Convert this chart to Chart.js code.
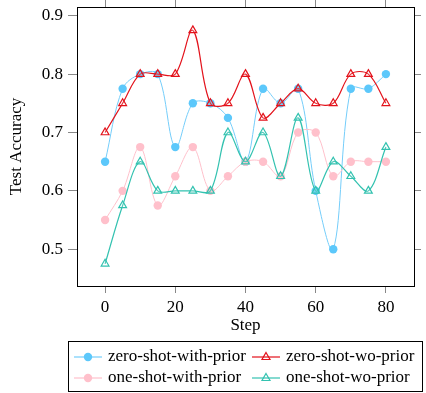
<!DOCTYPE html>
<html>
<head>
<meta charset="utf-8">
<script src="https://cdn.jsdelivr.net/npm/chart.js@4"></script>
<style>
  html, body { margin: 0; padding: 0; background: #fff; }
  #wrap { position: relative; width: 426px; height: 393px; }
  #legend {
    position: absolute; left: 68px; top: 341px; width: 355px; height: 51px;
    border: 1px solid #000; box-sizing: border-box;
    font-family: "Liberation Serif", "Times New Roman", serif; font-size: 17px;
  }
  .item { position: absolute; height: 20px; line-height: 20px; white-space: nowrap; }
  .item svg { position: absolute; left: 0; top: 2px; }
  .item span { position: absolute; left: 34px; top: -1px; }
</style>
</head>
<body>
<div id="wrap">
  <canvas id="chart" width="426" height="393"></canvas>
  <div id="legend"></div>
</div>
<script>
let steps = [0, 5, 10, 15, 20, 25, 30, 35, 40, 45, 50, 55, 60, 65, 70, 75, 80];
let zeroWithPrior = [0.65, 0.775, 0.8, 0.8, 0.675, 0.75, 0.75, 0.725, 0.65, 0.775, 0.75, 0.775, 0.6, 0.5, 0.775, 0.775, 0.8];
let zeroWoPrior = [0.7, 0.75, 0.8, 0.8, 0.8, 0.875, 0.75, 0.75, 0.8, 0.725, 0.75, 0.775, 0.75, 0.75, 0.8, 0.8, 0.75];
let oneWithPrior = [0.55, 0.6, 0.675, 0.575, 0.625, 0.675, 0.6, 0.625, 0.65, 0.65, 0.625, 0.7, 0.7, 0.625, 0.65, 0.65, 0.65];
let oneWoPrior = [0.475, 0.575, 0.65, 0.6, 0.6, 0.6, 0.6, 0.7, 0.65, 0.7, 0.625, 0.725, 0.6, 0.65, 0.625, 0.6, 0.675];
let xTicks = [0, 20, 40, 60, 80];
let yTicks = [0.5, 0.6, 0.7, 0.8, 0.9];

const font = "'Liberation Serif', 'Times New Roman', serif";

function pts(values) {
    return steps.map((s, i) => ({ x: s, y: values[i] }));
}

const series = [
    { label: "zero-shot-with-prior", data: zeroWithPrior, color: "#5cc8fb", line: "#74cdfa", shape: "circle", order: 3, width: 1 },
    { label: "zero-shot-wo-prior", data: zeroWoPrior, color: "#e3121b", line: "#e3121b", shape: "triangle", order: 2, width: 1.2 },
    { label: "one-shot-with-prior", data: oneWithPrior, color: "#ffc0cb", line: "#ffc0cb", shape: "circle", order: 1, width: 1 },
    { label: "one-shot-wo-prior", data: oneWoPrior, color: "#33c2b0", line: "#33c2b0", shape: "triangle", order: 0, width: 1.2 }
];

const datasets = series.map(s => ({
    label: s.label,
    data: pts(s.data),
    borderColor: s.line,
    borderWidth: s.width,
    tension: 0.35,
    order: s.order,
    pointStyle: s.shape,
    pointRadius: s.shape === "circle" ? 4.2 : 4.5,
    pointBorderWidth: s.shape === "circle" ? 0 : 1.2,
    pointBackgroundColor: s.shape === "circle" ? s.color : "rgba(255,255,255,0.15)",
    pointBorderColor: s.color
}));

function fixedTicks(list) {
    return scale => { scale.ticks = list.map(v => ({ value: v })); };
}

function size(prop, v) {
    return scale => {
        scale[prop] = v;
        scale.paddingTop = 0; scale.paddingBottom = 0;
        scale.paddingLeft = 0; scale.paddingRight = 0;
    };
}

new Chart(document.getElementById("chart"), {
    type: "line",
    data: { datasets: datasets },
    options: {
        responsive: false,
        animation: false,
        layout: { padding: 0 },
        plugins: { legend: { display: false }, tooltip: { enabled: false } },
        scales: {
            x: {
                type: "linear", position: "bottom", min: -8, max: 88,
                afterBuildTicks: fixedTicks(xTicks),
                afterFit: size("height", 107),
                grid: { drawOnChartArea: false, tickLength: 7, color: "#888" },
                border: { color: "#000", width: 1 },
                ticks: { color: "#000", padding: 4, maxRotation: 0, font: { family: font, size: 17 } },
                title: { display: true, text: "Step", color: "#000", font: { family: font, size: 17 }, padding: { top: 0, bottom: 57 } }
            },
            x2: {
                type: "linear", position: "top", min: -8, max: 88,
                afterBuildTicks: fixedTicks(xTicks),
                afterFit: size("height", 7),
                grid: { drawOnChartArea: false, tickLength: 7, color: "#888" },
                border: { color: "#000", width: 1 },
                ticks: { display: false }
            },
            y: {
                type: "linear", position: "left", min: 0.437, max: 0.915,
                afterBuildTicks: fixedTicks(yTicks),
                afterFit: size("width", 77),
                grid: { drawOnChartArea: false, tickLength: 9, color: "#888" },
                border: { color: "#000", width: 1 },
                ticks: { color: "#000", padding: 5, font: { family: font, size: 17 } },
                title: { display: true, text: "Test Accuracy", color: "#000", font: { family: font, size: 17 }, padding: { top: 6, bottom: 0 } }
            },
            y2: {
                type: "linear", position: "right", min: 0.437, max: 0.915,
                afterBuildTicks: fixedTicks(yTicks),
                afterFit: size("width", 12),
                grid: { drawOnChartArea: false, tickLength: 7, color: "#888" },
                border: { color: "#000", width: 1 },
                ticks: { display: false }
            }
        }
    }
});

// legend in two columns, like the original
const legend = document.getElementById("legend");
series.forEach((s, i) => {
    const item = document.createElement("div");
    item.className = "item";
    item.style.left = (i % 2 === 0 ? 5 : 183) + "px";
    item.style.top = (i < 2 ? 5 : 26) + "px";
    const marker = s.shape === "circle"
        ? `<circle cx="14" cy="8" r="4.2" fill="${s.color}"/>`
        : `<polygon points="14,3.5 18,10.5 10,10.5" fill="none" stroke="${s.color}" stroke-width="1.2"/>`;
    item.innerHTML = `<svg width="30" height="16"><line x1="0" y1="8" x2="28" y2="8" stroke="${s.line}" stroke-width="1.2"/>${marker}</svg><span>${s.label}</span>`;
    legend.appendChild(item);
});
</script>
</body>
</html>
